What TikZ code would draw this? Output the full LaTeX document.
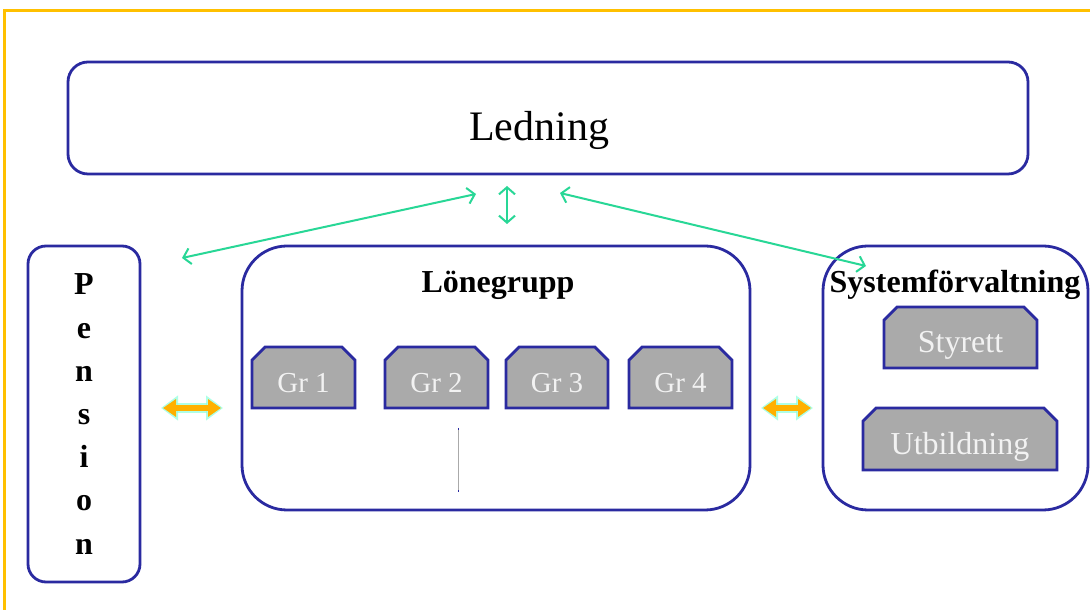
\documentclass[tikz,border=0pt]{standalone}
\usepackage{fontspec}
\setmainfont{Liberation Serif}
\usetikzlibrary{arrows.meta,shapes.misc}

\definecolor{frameyellow}{RGB}{255,192,0}
\definecolor{boxblue}{RGB}{42,42,160}
\definecolor{linkgreen}{RGB}{40,215,150}
\definecolor{grpgray}{RGB}{170,170,170}
\definecolor{grptext}{RGB}{242,242,242}
\definecolor{flowor}{RGB}{255,176,0}
\definecolor{flowglow}{RGB}{140,255,220}

\tikzset{
  unitbox/.style={draw=boxblue, line width=2.8pt, rounded corners=#1, fill=white, inner sep=0pt},
  grpbox/.style={chamfered rectangle, chamfered rectangle corners={north west,north east},
    chamfered rectangle xsep=10pt, draw=boxblue, line width=2.8pt, fill=grpgray,
    text=grptext, inner sep=0pt, text height=31pt, text depth=0pt,
    font=\fontsize{29}{34}\selectfont},
  headtext/.style={font=\fontsize{32}{38}\selectfont\bfseries, anchor=base, inner sep=0pt},
  link/.style={draw=linkgreen, line width=2pt,
    {Straight Barb[length=7pt,width=16pt]}-{Straight Barb[length=7pt,width=16pt]}},
  flowglowline/.style={draw=flowglow, line width=10pt, opacity=.7,
    {Triangle[length=17pt,width=24pt]}-{Triangle[length=17pt,width=24pt]}},
  flowline/.style={draw=flowor, line width=6pt,
    {Triangle[length=13pt,width=17pt]}-{Triangle[length=13pt,width=17pt]}},
}

\begin{document}
\begin{tikzpicture}[x=1pt,y=1pt]
  \useasboundingbox (0,0) rectangle (1090,610);
  \fill[white] (0,0) rectangle (1090,610);

  % outer frame (only top and left edges fall inside the page)
  \draw[frameyellow, line width=3pt] (1090,599) -- (4,599) -- (4,0);

  % main units
  \node[unitbox=20pt, minimum width=960pt, minimum height=112pt,
        label={[font=\fontsize{42}{48}\selectfont, xshift=-9pt, yshift=-12pt]center:Ledning}]
        (ledning) at (548,492) {};
  \node[unitbox=18pt, minimum width=112pt, minimum height=336pt,
        align=center, font=\fontsize{32}{43.2}\selectfont\bfseries]
        (pension) at (84,196) {P\\e\\n\\s\\i\\o\\n};
  \node[unitbox=45pt, minimum width=508pt, minimum height=264pt] (lone) at (496,232) {};
  \node[unitbox=45pt, minimum width=265pt, minimum height=264pt] (sys) at (955.5,232) {};

  \node[headtext] (lonetitle) at (498,317) {Lönegrupp};
  \node[headtext] (systitle) at (955,317) {Systemförvaltning};

  % groups
  \node[grpbox, minimum width=103pt, minimum height=61pt] (gr1) at (303.5,232.5) {Gr 1};
  \node[grpbox, minimum width=103pt, minimum height=61pt] (gr2) at (436.5,232.5) {Gr 2};
  \node[grpbox, minimum width=102pt, minimum height=61pt] (gr3) at (557,232.5) {Gr 3};
  \node[grpbox, minimum width=103pt, minimum height=61pt] (gr4) at (680.5,232.5) {Gr 4};
  \node[grpbox, minimum width=153pt, minimum height=61pt,
        font=\fontsize{32}{38}\selectfont] (styrett) at (960.5,272.5) {Styrett};
  \node[grpbox, minimum width=194pt, minimum height=62pt,
        font=\fontsize{32}{38}\selectfont] (utb) at (960,171) {Utbildning};

  % thin divider inside the salary group
  \coordinate (divtop) at (458,182);
  \coordinate (divbot) at (458,118);
  \draw[boxblue, line width=1pt] (divtop) -- (divbot);
  \draw[grpgray, line width=1pt] ([yshift=-2pt]divtop) -- ([yshift=2pt]divbot);

  % links to management
  \coordinate (lkA1) at (182,352);
  \coordinate (lkA2) at (476,416);
  \coordinate (lkB1) at (507,424);
  \coordinate (lkB2) at (507,386);
  \coordinate (lkC1) at (560,417);
  \coordinate (lkC2) at (866,344);
  \draw[link] (lkA1) -- (lkA2);
  \draw[link] (lkB1) -- (lkB2);
  \draw[link] (lkC1) -- (lkC2);

  % exchange arrows between units
  \coordinate (flA1) at (161,202);
  \coordinate (flA2) at (223,202);
  \coordinate (flB1) at (761,202);
  \coordinate (flB2) at (813,202);
  \draw[flowglowline] (flA1) -- (flA2);
  \draw[flowline] ([xshift=2pt]flA1) -- ([xshift=-2pt]flA2);
  \draw[flowglowline] (flB1) -- (flB2);
  \draw[flowline] ([xshift=2pt]flB1) -- ([xshift=-2pt]flB2);
\end{tikzpicture}
\end{document}
